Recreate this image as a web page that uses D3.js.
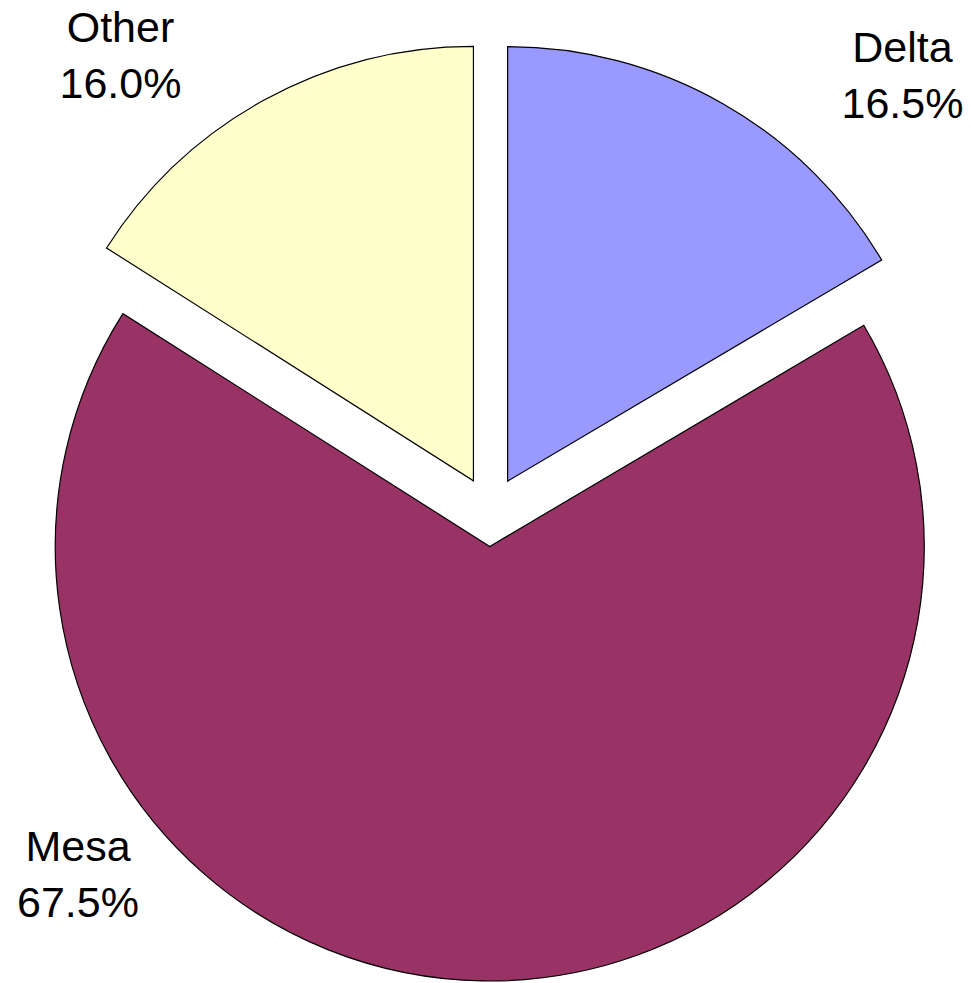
<!DOCTYPE html>
<html>
<head>
<meta charset="utf-8">
<script src="https://cdn.jsdelivr.net/npm/d3@7"></script>
<style>
  html, body { margin: 0; padding: 0; background: #fff; }
  svg { display: block; }
</style>
</head>
<body>
<svg id="chart" width="971" height="983"></svg>
<script>
const categories = ["Delta", "Mesa", "Other"];
const values = [16.5, 67.5, 16.0];
const colors = ["#9999FF", "#993366", "#FFFFCC"];
const labelLines = [["Delta", "16.5%"], ["Mesa", "67.5%"], ["Other", "16.0%"]];

const W = 971, H = 983;
const cx = 490.3, cy = 511.5, R = 434.5, explode = 35;

const svg = d3.select("#chart");
const pie = d3.pie().sort(null).value(d => d.value).startAngle(0).endAngle(2 * Math.PI);
const data = categories.map((c, i) => ({ name: c, value: values[i], color: colors[i], lines: labelLines[i] }));
const arcs = pie(data);
const arc = d3.arc().innerRadius(0).outerRadius(R);

const g = svg.append("g").attr("transform", `translate(${cx},${cy})`);

g.selectAll("path.slice")
  .data(arcs)
  .join("path")
  .attr("class", "slice")
  .attr("transform", d => {
    const a = (d.startAngle + d.endAngle) / 2;
    return `translate(${explode * Math.sin(a)},${-explode * Math.cos(a)})`;
  })
  .attr("d", arc)
  .attr("fill", d => d.data.color)
  .attr("stroke", "#000")
  .attr("stroke-width", 1.2)
  .attr("stroke-linejoin", "miter");

// Label placement (absolute page coordinates of each label block: center x, first baseline y)
const labelPos = {
  "Delta": [902.5, 62],
  "Mesa": [78, 861],
  "Other": [120.5, 42]
};

const lbl = svg.append("g")
  .attr("font-family", "'Liberation Sans', Arial, sans-serif")
  .attr("font-size", 43)
  .attr("fill", "#000")
  .attr("text-anchor", "middle");

arcs.forEach(d => {
  const [x, y] = labelPos[d.data.name];
  const t = lbl.append("text").attr("x", x).attr("y", y);
  d.data.lines.forEach((ln, i) => {
    t.append("tspan").attr("x", x).attr("dy", i === 0 ? 0 : 56).text(ln);
  });
});
</script>
</body>
</html>
